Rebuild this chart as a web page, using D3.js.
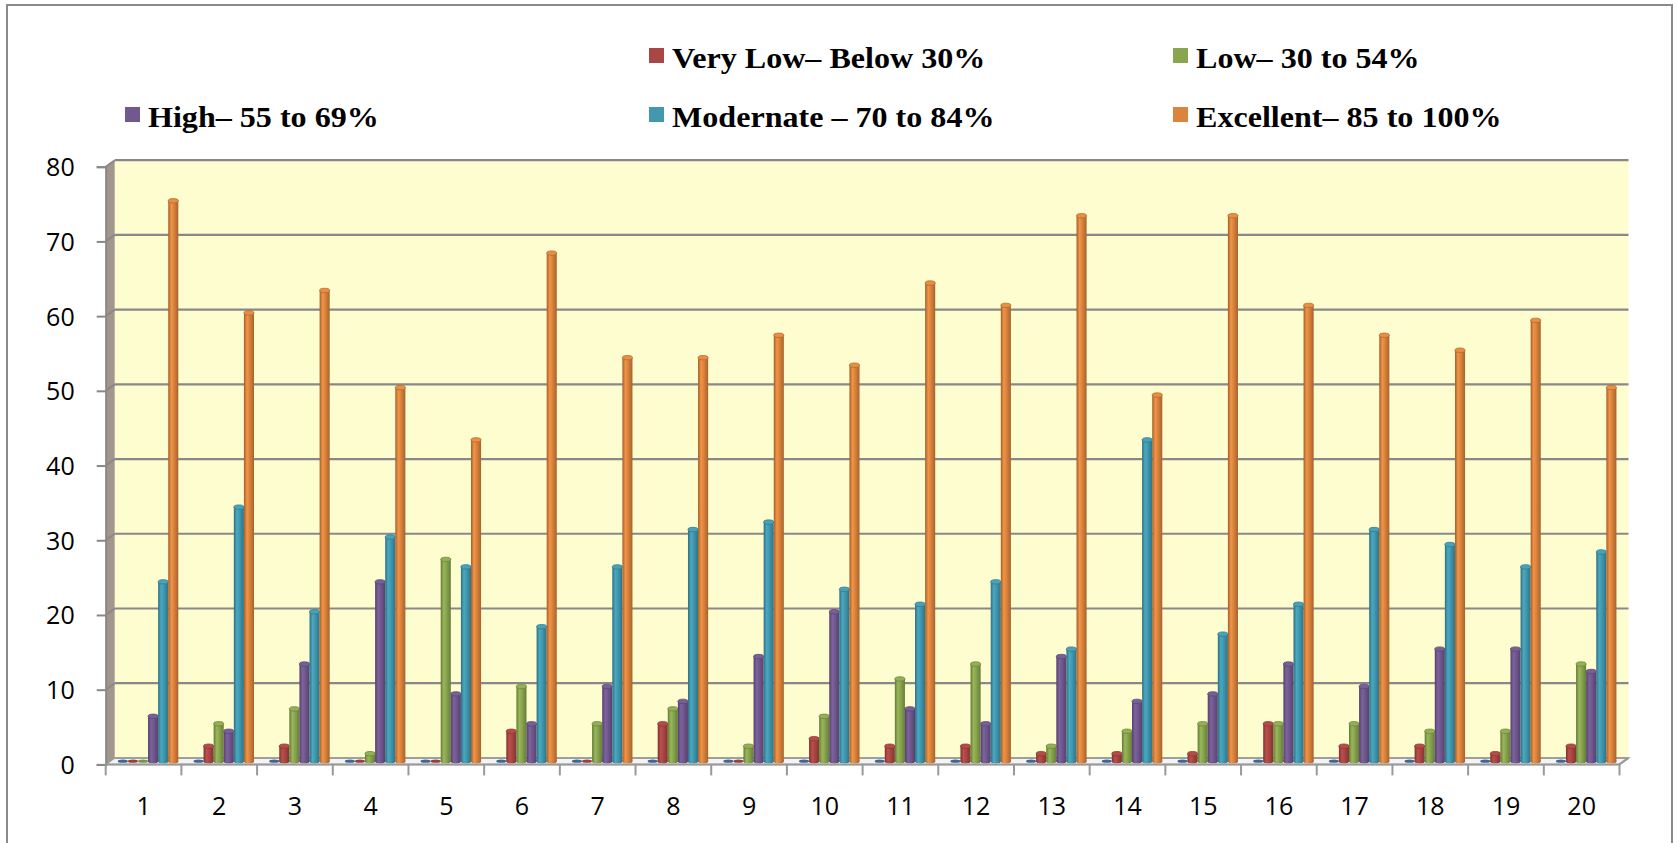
<!DOCTYPE html>
<html>
<head>
<meta charset="utf-8">
<script src="https://cdn.jsdelivr.net/npm/d3@7"></script>
<style>
  html, body { margin: 0; padding: 0; background: #fff; }
  svg { display: block; }
</style>
</head>
<body>
<svg id="chart" width="1677" height="843"></svg>
<script>
// ---------------- DATA ----------------
const categories = ["1","2","3","4","5","6","7","8","9","10","11","12","13","14","15","16","17","18","19","20"];
const seriesNames = ["", "Very Low– Below 30%", "Low– 30 to 54%", "High– 55 to 69%", "Modernate – 70 to 84%", "Excellent– 85 to 100%"];
const blankSeries = [0,0,0,0,0,0,0,0,0,0,0,0,0,0,0,0,0,0,0,0];
const veryLow     = [0,2,2,0,0,4,0,5,0,3,2,2,1,1,1,5,2,2,1,2];
const low         = [0,5,7,1,27,10,5,7,2,6,11,13,2,4,5,5,5,4,4,13];
const high        = [6,4,13,24,9,5,10,8,14,20,7,5,14,8,9,13,10,15,15,12];
const moderate    = [24,34,20,30,26,18,26,31,32,23,21,24,15,43,17,21,31,29,26,28];
const excellent   = [75,60,63,50,43,68,54,54,57,53,64,61,73,49,73,61,57,55,59,50];
const yTicks      = [0,10,20,30,40,50,60,70,80];
const seriesValues = [blankSeries, veryLow, low, high, moderate, excellent];
const seriesColors = ["#4572A7", "#AA4643", "#89A54E", "#71588F", "#4198AF", "#DB843D"];

// ---------------- LAYOUT ----------------
const svg = d3.select("#chart");
const X0 = 105.7, X1 = 1619.5, Y0 = 764.4, Y80 = 166.7;
const DX = 9, DY = -6.5; // 3D depth offset

const x0 = d3.scaleBand().domain(categories).range([X0, X1]).paddingInner(0.2).paddingOuter(0.1);
const x1 = d3.scaleBand().domain(d3.range(seriesNames.length)).range([0, x0.bandwidth()]);
const y = d3.scaleLinear().domain([0, 80]).range([Y0, Y80]);

// outer border
svg.append("rect").attr("x", 7).attr("y", 5).attr("width", 1665).attr("height", 845)
  .attr("fill", "#fff").attr("stroke", "#8a8a8a").attr("stroke-width", 2);

// gradients
const defs = svg.append("defs");
seriesColors.forEach((c, i) => {
  const base = d3.color(c);
  const g = defs.append("linearGradient").attr("id", "cyl" + i).attr("x1", "0%").attr("x2", "100%").attr("y1", "0%").attr("y2", "0%");
  g.append("stop").attr("offset", "0%").attr("stop-color", base.darker(0.9));
  g.append("stop").attr("offset", "30%").attr("stop-color", base.brighter(0.3));
  g.append("stop").attr("offset", "55%").attr("stop-color", base);
  g.append("stop").attr("offset", "100%").attr("stop-color", base.darker(0.8));
});

// back wall
svg.append("rect").attr("x", X0 + DX).attr("y", y(80) + DY).attr("width", X1 - X0).attr("height", y(0) - y(80))
  .attr("fill", "#FEFDD0");
// left wall
svg.append("path")
  .attr("d", `M${X0},${y(80)} L${X0 + DX},${y(80) + DY} L${X0 + DX},${y(0) + DY} L${X0},${y(0)} Z`)
  .attr("fill", "#A39789");
// floor
svg.append("path")
  .attr("d", `M${X0},${y(0)} L${X0 + DX},${y(0) + DY} L${X1 + DX},${y(0) + DY} L${X1},${y(0)} Z`)
  .attr("fill", "#f4f4f4").attr("stroke", "#9a9a9a").attr("stroke-width", 1.5);

// gridlines
const grid = svg.append("g");
yTicks.filter(t => t > 0).forEach(t => {
  grid.append("line").attr("x1", X0 + DX).attr("x2", X1 + DX).attr("y1", y(t) + DY).attr("y2", y(t) + DY)
    .attr("stroke", "#888").attr("stroke-width", 2.2);
  grid.append("line").attr("x1", X0).attr("x2", X0 + DX).attr("y1", y(t)).attr("y2", y(t) + DY)
    .attr("stroke", "#888").attr("stroke-width", 2);
});
grid.append("line").attr("x1", X0 + DX).attr("x2", X1 + DX).attr("y1", y(0) + DY).attr("y2", y(0) + DY)
  .attr("stroke", "#999").attr("stroke-width", 1.5);

// Y axis
const yAxis = d3.axisLeft(y).tickValues(yTicks).tickSize(9).tickPadding(22);
const yg = svg.append("g").attr("transform", `translate(${X0},0)`).call(yAxis);
yg.select(".domain").attr("stroke", "#888").attr("stroke-width", 2);
yg.selectAll(".tick line").attr("stroke", "#888").attr("stroke-width", 2);
yg.selectAll(".tick text").attr("font-family", "'Open Sans', sans-serif").attr("font-size", 25).attr("fill", "#000").attr("dy", "0.36em");

// X axis
const xTickPos = categories.map((c, i) => X0 + i * x0.step());
xTickPos.push(X1);
const xg = svg.append("g");
xg.append("line").attr("x1", X0).attr("x2", X1).attr("y1", y(0)).attr("y2", y(0)).attr("stroke", "#999").attr("stroke-width", 2);
xg.append("line").attr("x1", X1).attr("x2", X1 + DX).attr("y1", y(0)).attr("y2", y(0) + DY).attr("stroke", "#999").attr("stroke-width", 2);
xg.selectAll("line.tk").data(xTickPos).join("line").attr("class", "tk")
  .attr("x1", d => d).attr("x2", d => d).attr("y1", y(0)).attr("y2", y(0) + 11)
  .attr("stroke", "#999").attr("stroke-width", 2);
xg.selectAll("text").data(categories).join("text")
  .attr("x", d => x0(d) + x0.bandwidth() / 2).attr("y", 815)
  .attr("text-anchor", "middle").attr("font-family", "'Open Sans', sans-serif").attr("font-size", 25).attr("fill", "#000")
  .text(d => d);

// bars (cylinders)
const bw = x1.bandwidth();
const ry = 2.2;
const bars = svg.append("g");
categories.forEach((cat, ci) => {
  seriesValues.forEach((vals, si) => {
    const v = vals[ci];
    const cx = x0(cat) + x1(si) + DX / 2;
    const yb = y(0) + DY / 2;
    const yt = y(v) + DY / 2;
    const col = d3.color(seriesColors[si]);
    const g = bars.append("g");
    if (v > 0) {
      g.append("ellipse").attr("cx", cx + bw / 2).attr("cy", yb).attr("rx", bw / 2).attr("ry", ry)
        .attr("fill", `url(#cyl${si})`);
      g.append("rect").attr("x", cx).attr("y", yt).attr("width", bw).attr("height", yb - yt)
        .attr("fill", `url(#cyl${si})`);
      g.append("ellipse").attr("cx", cx + bw / 2).attr("cy", yt).attr("rx", bw / 2).attr("ry", ry)
        .attr("fill", col.brighter(0.2)).attr("stroke", col.darker(0.6)).attr("stroke-width", 0.8);
    } else {
      g.append("ellipse").attr("cx", cx + bw / 2).attr("cy", yb).attr("rx", bw / 2).attr("ry", 1.6)
        .attr("fill", col.darker(0.3));
    }
  });
});

// legend
const legendPos = [[125, 48], [649, 48], [1173, 48], [125, 107], [649, 107], [1173, 107]];
const lg = svg.append("g");
seriesNames.forEach((name, i) => {
  if (!name) return;
  const [lx, ly] = legendPos[i];
  lg.append("rect").attr("x", lx).attr("y", ly).attr("width", 15).attr("height", 15).attr("fill", seriesColors[i]);
  lg.append("text").attr("transform", `translate(${lx + 23},${ly + 20}) scale(1.07,1)`)
    .attr("font-family", "'Liberation Serif', 'Times New Roman', serif").attr("font-weight", "bold")
    .attr("font-size", 30).attr("fill", "#000").text(name);
});
</script>
</body>
</html>
